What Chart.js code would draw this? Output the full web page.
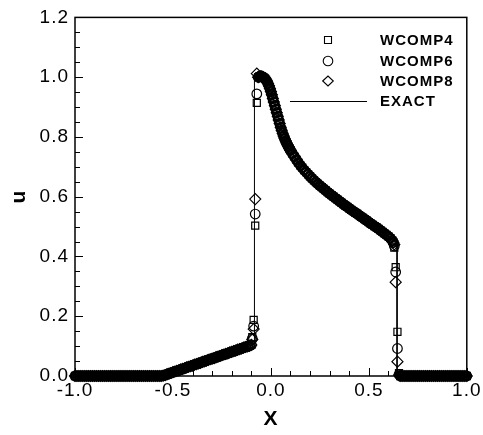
<!DOCTYPE html>
<html>
<head>
<meta charset="utf-8">
<script src="https://cdn.jsdelivr.net/npm/chart.js@4.4.0/dist/chart.umd.min.js"></script>
<style>
  html, body { margin: 0; padding: 0; background: #fff; }
</style>
</head>
<body>
<canvas id="chart" width="483" height="435"></canvas>
<script>
// Axis ticks
const xTickValues = [-1, -0.5, 0, 0.5, 1];
const xTickLabels = ['-1.0', '-0.5', '0.0', '0.5', '1.0'];
const yTickValues = [0, 0.2, 0.4, 0.6, 0.8, 1.0, 1.2];
const yTickLabels = ['0.0', '0.2', '0.4', '0.6', '0.8', '1.0', '1.2'];

// Smooth part of the solution (same for all three schemes)
const leftX = [
  -1.00, -0.99, -0.98, -0.97, -0.96, -0.95, -0.94, -0.93, -0.92, -0.91,
  -0.90, -0.89, -0.88, -0.87, -0.86, -0.85, -0.84, -0.83, -0.82, -0.81,
  -0.80, -0.79, -0.78, -0.77, -0.76, -0.75, -0.74, -0.73, -0.72, -0.71,
  -0.70, -0.69, -0.68, -0.67, -0.66, -0.65, -0.64, -0.63, -0.62, -0.61,
  -0.60, -0.59, -0.58, -0.57, -0.56, -0.55, -0.54, -0.53, -0.52, -0.51,
  -0.50, -0.49, -0.48, -0.47, -0.46, -0.45, -0.44, -0.43, -0.42, -0.41,
  -0.40, -0.39, -0.38, -0.37, -0.36, -0.35, -0.34, -0.33, -0.32, -0.31,
  -0.30, -0.29, -0.28, -0.27, -0.26, -0.25, -0.24, -0.23, -0.22, -0.21,
  -0.20, -0.19, -0.18, -0.17, -0.16, -0.15, -0.14, -0.13, -0.12, -0.11,
  -0.10
];
const leftU = [
  0, 0, 0, 0, 0, 0, 0, 0, 0, 0,
  0, 0, 0, 0, 0, 0, 0, 0, 0, 0,
  0, 0, 0, 0, 0, 0, 0, 0, 0, 0,
  0, 0, 0, 0, 0, 0, 0, 0, 0, 0,
  0, 0, 0, 0, 0, 0.001, 0.003, 0.006, 0.008, 0.010,
  0.013, 0.015, 0.017, 0.019, 0.022, 0.024, 0.026, 0.029, 0.031, 0.033,
  0.035, 0.038, 0.040, 0.042, 0.044, 0.047, 0.049, 0.051, 0.054, 0.056,
  0.058, 0.060, 0.063, 0.065, 0.067, 0.070, 0.072, 0.074, 0.076, 0.079,
  0.081, 0.083, 0.085, 0.088, 0.090, 0.092, 0.095, 0.097, 0.099, 0.101,
  0.104
];

const peakX = [
  -0.065, -0.060, -0.055, -0.050, -0.045, -0.040, -0.035, -0.030, -0.025, -0.020,
  -0.015, -0.010, -0.005, 0.000, 0.005, 0.010, 0.015, 0.020, 0.025, 0.030,
  0.035, 0.040, 0.045, 0.050, 0.055, 0.060, 0.065, 0.070, 0.075, 0.080,
  0.085, 0.090, 0.095,
  0.10, 0.11, 0.12, 0.13, 0.14, 0.15, 0.16, 0.17, 0.18, 0.19,
  0.20, 0.21, 0.22, 0.23, 0.24, 0.25, 0.26, 0.27, 0.28, 0.29,
  0.30, 0.31, 0.32, 0.33, 0.34, 0.35, 0.36, 0.37, 0.38, 0.39,
  0.40, 0.41, 0.42, 0.43, 0.44, 0.45, 0.46, 0.47, 0.48, 0.49,
  0.50, 0.51, 0.52, 0.53, 0.54, 0.55, 0.56, 0.57, 0.58, 0.59,
  0.60, 0.61, 0.62, 0.625
];
const peakU = [
  1.000, 1.002, 1.003, 1.003, 1.002, 1.000, 0.998, 0.995, 0.991, 0.986,
  0.979, 0.971, 0.962, 0.952, 0.941, 0.929, 0.917, 0.905, 0.893, 0.881,
  0.869, 0.857, 0.845, 0.832, 0.822, 0.812, 0.803, 0.795, 0.787, 0.780,
  0.773, 0.767, 0.761,
  0.755, 0.744, 0.734, 0.724, 0.714, 0.705, 0.697, 0.689, 0.682, 0.675,
  0.668, 0.661, 0.655, 0.649, 0.643, 0.637, 0.632, 0.626, 0.621, 0.615,
  0.610, 0.605, 0.600, 0.595, 0.590, 0.585, 0.580, 0.575, 0.570, 0.566,
  0.561, 0.556, 0.552, 0.547, 0.543, 0.538, 0.533, 0.529, 0.524, 0.520,
  0.515, 0.510, 0.506, 0.501, 0.497, 0.492, 0.487, 0.482, 0.477, 0.472,
  0.467, 0.461, 0.453, 0.447
];

const rightX = [
  0.66, 0.67, 0.68, 0.69, 0.70, 0.71, 0.72, 0.73, 0.74, 0.75,
  0.76, 0.77, 0.78, 0.79, 0.80, 0.81, 0.82, 0.83, 0.84, 0.85,
  0.86, 0.87, 0.88, 0.89, 0.90, 0.91, 0.92, 0.93, 0.94, 0.95,
  0.96, 0.97, 0.98, 0.99, 1.00
];
const rightU = [
  0, 0, 0, 0, 0, 0, 0, 0, 0, 0,
  0, 0, 0, 0, 0, 0, 0, 0, 0, 0,
  0, 0, 0, 0, 0, 0, 0, 0, 0, 0,
  0, 0, 0, 0, 0
];

// Cells inside the two jumps, where the schemes differ
const jumpX = [-0.095, -0.088, -0.080, -0.072, 0.630, 0.637, 0.646, 0.654];
const wcomp4U = [0.130, 0.188, 0.503, 0.914, 0.430, 0.364, 0.148, 0.010];
const wcomp6U = [0.125, 0.167, 0.542, 0.944, 0.435, 0.348, 0.092, 0.005];
const wcomp8U = [0.122, 0.157, 0.592, 1.012, 0.440, 0.314, 0.048, 0.003];

// Exact solution
const exactX = [-1, -0.555, -0.084, -0.084, -0.05, -0.03, -0.01, 0, 0.02, 0.05, 0.1, 0.15, 0.2, 0.3, 0.4, 0.5, 0.6, 0.644, 0.644, 1];
const exactU = [0, 0, 0.107, 1.0, 1.003, 0.995, 0.971, 0.952, 0.905, 0.832, 0.755, 0.705, 0.668, 0.61, 0.561, 0.515, 0.467, 0.44, 0, 0];

const FONT = '"Liberation Sans", Arial, Helvetica, sans-serif';

function toPoints(xs, us) {
    return xs.map((x, i) => ({ x: x, y: us[i] }));
}

function schemePoints(jumpU) {
    return toPoints(leftX, leftU)
        .concat(toPoints(peakX, peakU))
        .concat(toPoints(rightX, rightU))
        .concat(toPoints(jumpX, jumpU));
}

// Slightly wider lettering, like the original plot fonts
const wideText = {
    id: 'wideText',
    beforeDraw(chart) { chart.ctx.letterSpacing = '1px'; },
    afterDraw(chart) { chart.ctx.letterSpacing = '0px'; }
};

// Frame with inward major/minor ticks
const frameTicks = {
    id: 'frameTicks',
    beforeDatasetsDraw(chart) {
        const { ctx, chartArea: a, scales: { x, y } } = chart;
        ctx.save();
        ctx.strokeStyle = '#000';
        ctx.lineWidth = 1.5;
        ctx.strokeRect(a.left, a.top, a.right - a.left, a.bottom - a.top);
        ctx.lineWidth = 1;
        ctx.beginPath();
        for (let i = 0; i <= 20; i++) {
            const px = Math.round(x.getPixelForValue(-1 + i * 0.1)) + 0.5;
            const len = i % 5 === 0 ? 8 : 5;
            ctx.moveTo(px, a.bottom);
            ctx.lineTo(px, a.bottom - len);
        }
        for (let i = 0; i <= 24; i++) {
            const py = Math.round(y.getPixelForValue(i * 0.05)) + 0.5;
            const len = i % 4 === 0 ? 8 : 5;
            ctx.moveTo(a.left, py);
            ctx.lineTo(a.left + len, py);
        }
        ctx.stroke();
        ctx.restore();
    }
};

// Legend inside the plot, symbols left of the names
const insideLegend = {
    id: 'insideLegend',
    afterDraw(chart) {
        const ctx = chart.ctx;
        const rows = [40, 61, 81, 101];
        const mx = 328, tx = 380;
        ctx.save();
        ctx.strokeStyle = '#000';
        ctx.fillStyle = '#000';
        ctx.lineWidth = 1.1;
        chart.data.datasets.forEach((ds, i) => {
            const yy = rows[i];
            ctx.beginPath();
            if (ds.pointStyle === 'rect') {
                ctx.rect(mx - 3.5, yy - 3.5, 7, 7);
            } else if (ds.pointStyle === 'circle') {
                ctx.arc(mx, yy, 4.8, 0, Math.PI * 2);
            } else if (ds.pointStyle === 'rectRot') {
                ctx.moveTo(mx - 5.3, yy);
                ctx.lineTo(mx, yy - 5);
                ctx.lineTo(mx + 5.3, yy);
                ctx.lineTo(mx, yy + 5);
                ctx.closePath();
            } else {
                ctx.moveTo(290, yy + 0.5);
                ctx.lineTo(367, yy + 0.5);
            }
            ctx.stroke();
            ctx.font = 'bold 15px ' + FONT;
            ctx.letterSpacing = '1px';
            ctx.textBaseline = 'middle';
            ctx.fillText(ds.label, tx, yy + 1);
        });
        ctx.restore();
    }
};

const markerStyle = {
    showLine: false,
    borderColor: '#000',
    backgroundColor: 'rgba(0,0,0,0)',
    pointBorderWidth: 1.2,
    clip: false
};

const ctx = document.getElementById('chart').getContext('2d');
new Chart(ctx, {
    type: 'scatter',
    data: {
        datasets: [
            Object.assign({ label: 'WCOMP4', data: schemePoints(wcomp4U), pointStyle: 'rect', pointRadius: 5 }, markerStyle),
            Object.assign({ label: 'WCOMP6', data: schemePoints(wcomp6U), pointStyle: 'circle', pointRadius: 4.8 }, markerStyle),
            Object.assign({ label: 'WCOMP8', data: schemePoints(wcomp8U), pointStyle: 'rectRot', pointRadius: 5.5 }, markerStyle),
            {
                label: 'EXACT',
                data: toPoints(exactX, exactU),
                showLine: true,
                borderColor: '#000',
                borderWidth: 1,
                pointRadius: 0,
                tension: 0,
                clip: false
            }
        ]
    },
    options: {
        responsive: false,
        animation: false,
        layout: { padding: { top: 16, right: 13, left: 0, bottom: 0 } },
        plugins: {
            legend: { display: false },
            tooltip: { enabled: false }
        },
        scales: {
            x: {
                type: 'linear',
                min: -1,
                max: 1,
                afterBuildTicks: s => { s.ticks = xTickValues.map(v => ({ value: v })); },
                afterFit: s => { s.height = 59; },
                ticks: {
                    callback: (v, i) => xTickLabels[i],
                    color: '#000',
                    font: { family: FONT, size: 19 },
                    padding: 3,
                    maxRotation: 0,
                    autoSkip: false
                },
                grid: { display: false, drawTicks: false },
                border: { display: false },
                title: {
                    display: true,
                    text: 'X',
                    color: '#000',
                    font: { family: FONT, size: 21, weight: 'bold' },
                    padding: { top: 0, bottom: 3 }
                }
            },
            y: {
                type: 'linear',
                min: 0,
                max: 1.2,
                afterBuildTicks: s => { s.ticks = yTickValues.map(v => ({ value: v })); },
                afterFit: s => { s.width = 75; },
                ticks: {
                    callback: (v, i) => yTickLabels[i],
                    color: '#000',
                    font: { family: FONT, size: 19 },
                    padding: 6,
                    autoSkip: false
                },
                grid: { display: false, drawTicks: false },
                border: { display: false },
                title: {
                    display: true,
                    text: 'u',
                    color: '#000',
                    font: { family: FONT, size: 21, weight: 'bold' },
                    padding: { top: 7, bottom: 0 }
                }
            }
        }
    },
    plugins: [wideText, frameTicks, insideLegend]
});
</script>
</body>
</html>
